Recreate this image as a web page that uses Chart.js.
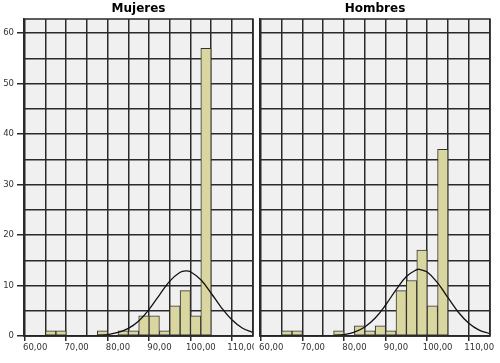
<!DOCTYPE html>
<html>
<head>
<meta charset="utf-8">
<script src="https://cdn.jsdelivr.net/npm/chart.js@4"></script>
<style>
  body { margin: 0; background: #fff; }
  #left { position: absolute; left: 0; top: 0; }
  #right { position: absolute; left: 254px; top: 0; }
</style>
</head>
<body>
<canvas id="left" width="254" height="363"></canvas>
<canvas id="right" width="246" height="363"></canvas>
<script>
// histogram bins (start of each 2.5 wide bin)
const binStarts = [62.5, 65, 67.5, 70, 72.5, 75, 77.5, 80, 82.5, 85, 87.5, 90, 92.5, 95, 97.5, 100];
const binWidth = 2.5;
const mujeresCounts = [1, 1, 0, 0, 0, 1, 0, 1, 1, 4, 4, 1, 6, 9, 4, 57];
const hombresCounts = [1, 1, 0, 0, 0, 1, 0, 2, 1, 2, 1, 9, 11, 17, 6, 37];

// normal curve
const mujeresCurveX = [57.5, 60, 62.5, 65, 67.5, 70, 72.5, 75, 77.5, 80, 82.5, 85, 87.5, 90, 92.5, 95, 96.4, 97.5, 100, 102.5, 105, 107.5, 110, 112.5];
const mujeresCurveY = [0, 0, 0, 0, 0, 0.01, 0.03, 0.09, 0.28, 0.7, 1.5, 2.97, 5.27, 8.12, 10.86, 12.62, 12.9, 12.72, 11.14, 8.47, 5.59, 3.21, 1.59, 0.69];
const hombresCurveX = [57.5, 60, 62.5, 65, 67.5, 70, 72.5, 75, 77.5, 80, 82.5, 85, 87.5, 90, 92.5, 95, 95.6, 97.5, 100, 102.5, 105, 107.5, 110, 112.5];
const hombresCurveY = [0, 0, 0, 0, 0, 0.01, 0.03, 0.09, 0.29, 0.77, 1.79, 3.56, 6.14, 9.16, 11.8, 13.15, 13.2, 12.66, 10.53, 7.58, 4.71, 2.53, 1.17, 0.47];

// tick labels
const xTickValues = [60, 70, 80, 90, 100, 110];
const xTickLabels = ['60,00', '70,00', '80,00', '90,00', '100,00', '110,00'];
const yTickValues = [0, 10, 20, 30, 40, 50, 60];
const yTickLabels = ['0', '10', '20', '30', '40', '50', '60'];

const gridColor = '#2a2a2a';
const tickFont = { family: 'DejaVu Sans', size: 8.5 };

const plotBox = {
    id: 'plotBox',
    beforeDraw(chart) {
        const a = chart.chartArea, c = chart.ctx;
        c.save();
        c.fillStyle = '#f0f0f0';
        c.fillRect(a.left, a.top, a.right - a.left, a.bottom - a.top);
        c.restore();
    },
    afterDatasetsDraw(chart) {
        const a = chart.chartArea, c = chart.ctx;
        c.save();
        c.strokeStyle = gridColor;
        c.lineWidth = 1.5;
        c.strokeRect(a.left, a.top, a.right - a.left, a.bottom - a.top);
        c.restore();
    }
};

function majorTick(list) {
    return ctx => (ctx.tick && list.includes(ctx.tick.value)) ? gridColor : 'rgba(0,0,0,0)';
}

function makeChart(id, title, counts, curveX, curveY, showY, padding) {
    const bars = [];
    binStarts.forEach((b, i) => {
        if (counts[i] > 0) bars.push({ x: b + binWidth / 2, y: counts[i] });
    });
    const curve = curveX.map((x, i) => ({ x: x, y: curveY[i] }));

    return new Chart(document.getElementById(id), {
        type: 'bar',
        data: {
            datasets: [{
                type: 'line',
                data: curve,
                borderColor: '#111',
                borderWidth: 1.3,
                pointRadius: 0,
                tension: 0.4,
                order: 0
            }, {
                type: 'bar',
                data: bars,
                backgroundColor: '#dad6a0',
                borderColor: '#333',
                borderWidth: 1,
                borderSkipped: false,
                barPercentage: 1,
                categoryPercentage: 1,
                order: 1
            }]
        },
        options: {
            responsive: false,
            animation: false,
            devicePixelRatio: 1,
            layout: { padding: padding },
            plugins: {
                legend: { display: false },
                tooltip: { enabled: false },
                title: {
                    display: true,
                    text: title,
                    fullSize: false,
                    color: '#000',
                    font: { family: 'DejaVu Sans', size: 12, weight: 'bold', lineHeight: 1.2 },
                    padding: { top: 2, bottom: 2.6 }
                }
            },
            scales: {
                x: {
                    type: 'linear',
                    min: 57.3,
                    max: 112.6,
                    offset: false,
                    grid: {
                        color: gridColor,
                        lineWidth: 1.5,
                        tickLength: 5,
                        tickColor: majorTick(xTickValues)
                    },
                    border: { color: gridColor, width: 1.5 },
                    ticks: {
                        stepSize: 5,
                        includeBounds: false,
                        maxRotation: 0,
                        autoSkip: false,
                        padding: 2,
                        color: '#333',
                        font: tickFont,
                        callback: v => {
                            const i = xTickValues.indexOf(v);
                            return i >= 0 ? xTickLabels[i] : '';
                        }
                    },
                    afterFit: s => { s.height = 27; s.paddingLeft = 0; s.paddingRight = 0; }
                },
                y: {
                    min: 0,
                    max: 62.8,
                    grid: {
                        color: gridColor,
                        lineWidth: 1.5,
                        drawTicks: showY,
                        tickLength: 7,
                        tickColor: majorTick(yTickValues)
                    },
                    border: { color: gridColor, width: 1.5 },
                    ticks: {
                        display: showY,
                        stepSize: 5,
                        includeBounds: false,
                        autoSkip: false,
                        padding: 3,
                        color: '#333',
                        font: tickFont,
                        callback: v => {
                            const i = yTickValues.indexOf(v);
                            return i >= 0 ? yTickLabels[i] : '';
                        }
                    },
                    afterFit: s => { s.width = showY ? 24 : 0; s.paddingTop = 0; s.paddingBottom = 0; }
                }
            }
        },
        plugins: [plotBox]
    });
}

makeChart('left', 'Mujeres', mujeresCounts, mujeresCurveX, mujeresCurveY, true, { left: 0, right: 1, top: 0, bottom: 0 });
makeChart('right', 'Hombres', hombresCounts, hombresCurveX, hombresCurveY, false, { left: 6, right: 10, top: 0, bottom: 0 });
</script>
</body>
</html>
